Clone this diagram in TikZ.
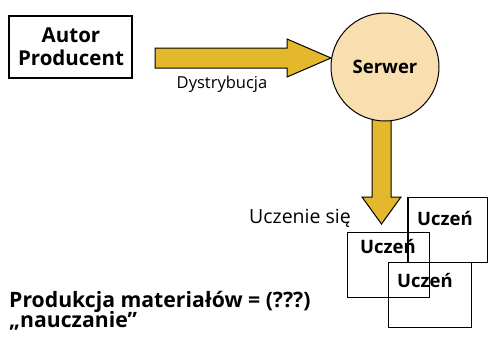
\documentclass[tikz,border=0pt]{standalone}
\usepackage{fontspec}
\setmainfont{Open Sans}
\usetikzlibrary{calc}
\definecolor{gold}{HTML}{E3B82C}
\definecolor{peach}{HTML}{F9DEB0}
\begin{document}
\begin{tikzpicture}[x=1pt,y=-1pt,
  box/.style={draw=black,line width=1.2pt,minimum width=123pt,minimum height=62pt,inner sep=0pt},
  boxtext/.style={anchor=base,inner sep=0pt,font=\fontsize{20.5}{21}\selectfont\bfseries},
  pupil/.style={draw=black,line width=1pt,minimum width=82pt,minimum height=65pt},
  pupiltext/.style={anchor=base,inner sep=0pt,font=\fontsize{18.5}{19}\selectfont\bfseries},
  flow/.style={fill=gold,draw=black,line width=1pt,line join=miter},
  lbl/.style={anchor=base,inner sep=0pt,font=\fontsize{16.5}{18}\selectfont},
  captext/.style={anchor=base west,inner sep=0pt,font=\fontsize{21.2}{22}\selectfont\bfseries}]
\useasboundingbox (0,0) rectangle (488,338);

% author / producer
\node[box] (autor) at (70.5,47) {};
\node[boxtext] (autor1) at (71,42) {Autor};
\node[boxtext] (autor2) at (71,65) {Producent};

% server
\coordinate (sc) at (385,67);

% distribution arrow into the server
\coordinate (dstart) at (155,58);
\coordinate (dtip) at (331,58);
\draw[flow] ($(dstart)+(0,-10)$) -- (287,48) -- (287,39) -- (dtip) -- (287,77) -- (287,68) -- ($(dstart)+(0,10)$) -- cycle;
\node[lbl] (dist) at (222,88) {Dystrybucja};

% learning arrow down from the server
\coordinate (lstart) at (381.5,110);
\coordinate (ltip) at (381.5,224);
\draw[flow] ($(lstart)+(-9.5,0)$) -- (372,197) -- (362,197) -- (ltip) -- (401,197) -- (391,197) -- ($(lstart)+(9.5,0)$) -- cycle;

\node[circle,draw=black,fill=peach,line width=1pt,minimum size=108pt,inner sep=0pt] (serwer) at (sc) {};
\node[anchor=base,inner sep=0pt,font=\fontsize{18.5}{19}\selectfont\bfseries] (serwertext) at (385,73) {Serwer};

\node[lbl,font=\fontsize{19.5}{20}\selectfont] (learn) at (300,223) {Uczenie się};

% learners
\node[pupil,minimum width=79pt] (p1) at (447.5,229.5) {};
\node[pupil] (p2) at (388,265) {};
\node[pupil,minimum width=83pt] (p3) at (429.5,294.5) {};
\node[pupiltext] (t1) at (445,225) {Uczeń};
\node[pupiltext] (t2) at (388,253) {Uczeń};
\node[pupiltext] (t3) at (425,287) {Uczeń};
\draw[line width=1pt] (p1.north west) -- (p1.south west);

% caption
\node[captext] (cap1) at (9,307) {Produkcja materiałów = (???)};
\node[captext] (cap2) at (9,327) {„nauczanie”};
\end{tikzpicture}
\end{document}
